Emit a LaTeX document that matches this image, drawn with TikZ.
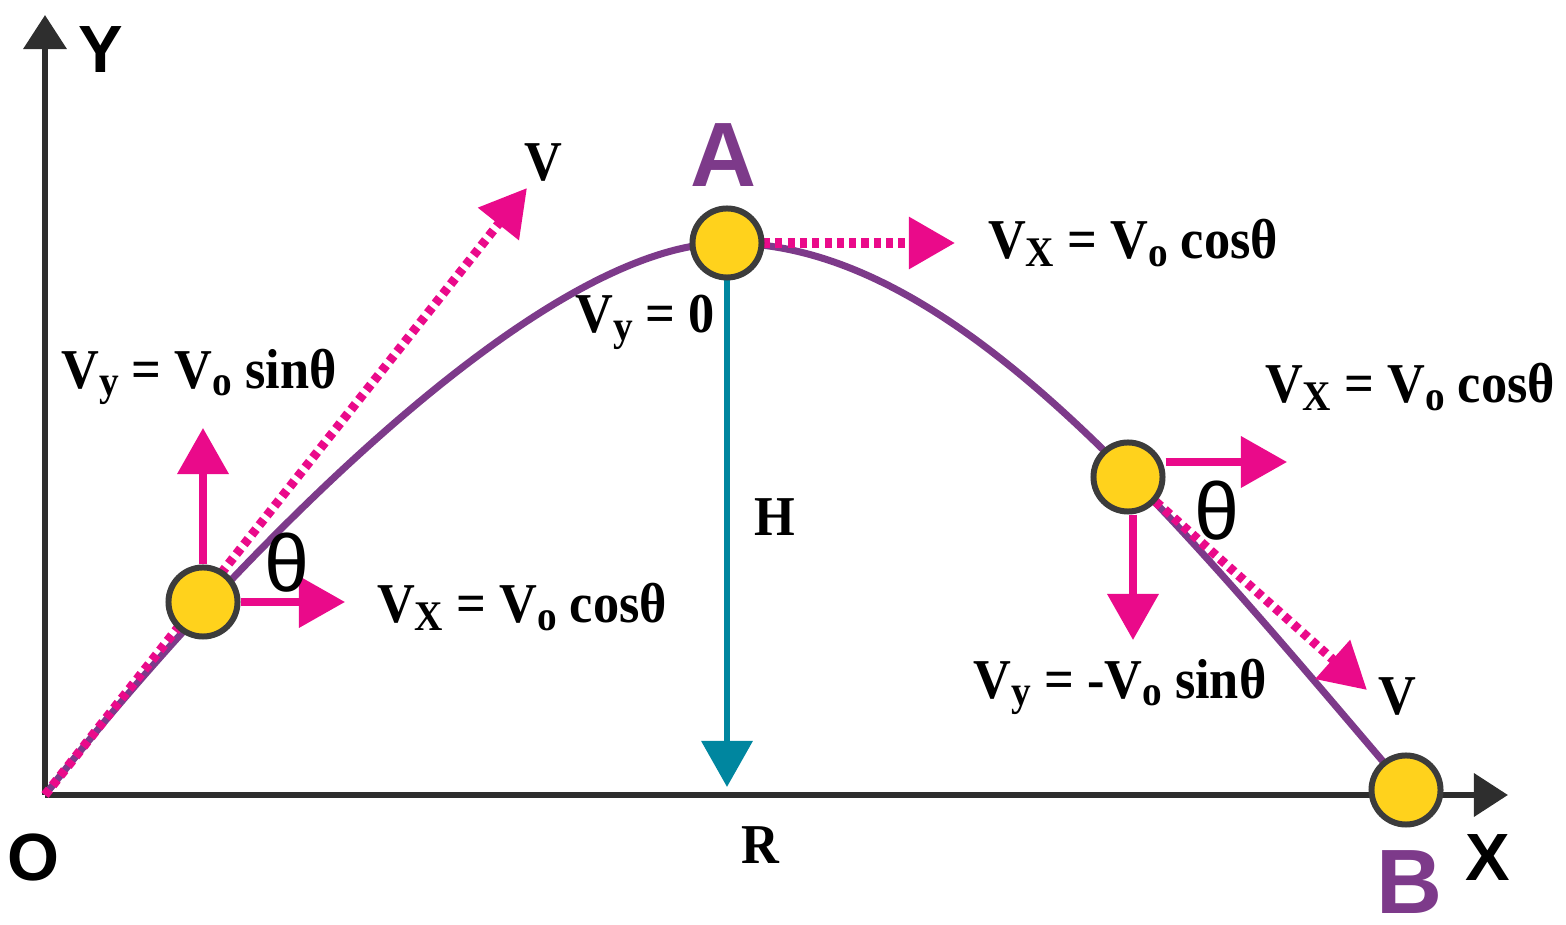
\documentclass[tikz,border=0pt]{standalone}
\usepackage{fontspec}
\setmainfont{Liberation Serif}[FakeStretch=0.93]
\newfontfamily\lsans{Liberation Sans}
\usetikzlibrary{arrows.meta}
\definecolor{pinkc}{HTML}{EA0A8A}
\definecolor{purpc}{HTML}{7D3A8A}
\definecolor{goldc}{HTML}{FFD21C}
\definecolor{edgec}{HTML}{3C3C3C}
\definecolor{tealc}{HTML}{00869F}
\definecolor{axisc}{HTML}{2E2E2E}
\newcommand\lowsub[1]{\raisebox{-0.3ex}{\fontsize{12}{12}\selectfont #1}}
\begin{document}
\begin{tikzpicture}[x=0.01cm,y=-0.01cm,
  ball/.style={circle,draw=edgec,fill=goldc,line width=1.7pt,minimum size=0.69cm,inner sep=0pt},
  axisline/.style={draw=axisc,line width=1.9pt,-{Triangle[length=0.34cm,width=0.42cm]}},
  vec/.style={draw=pinkc,line width=2pt,-{Triangle[length=0.46cm,width=0.5cm]}},
  dotvec/.style={draw=pinkc,line width=2.6pt,dash pattern=on 2pt off 1.5pt,-{Triangle[length=0.46cm,width=0.5cm]}},
  hvec/.style={draw=tealc,line width=1.9pt,-{Triangle[length=0.46cm,width=0.5cm]}},
  path/.style={draw=purpc,line width=2pt},
  eq/.style={font=\bfseries\fontsize{16}{18}\selectfont,inner sep=0pt},
  axlab/.style={font=\lsans\bfseries\fontsize{19}{20}\selectfont,inner sep=0pt},
  ptlab/.style={font=\lsans\bfseries\fontsize{26}{28}\selectfont,text=purpc,inner sep=0pt},
  thlab/.style={font=\lsans\fontsize{23}{24}\selectfont,inner sep=0pt}
]
\path[use as bounding box] (0,0) rectangle (1566,925);
% axes
\coordinate (O) at (45,795);
\coordinate (ytip) at (45,15);
\coordinate (xtip) at (1508,795);
\draw[axisline] (O) -- (ytip);
\draw[axisline] (O) -- (xtip);
% trajectory
\coordinate (apex) at (727,243);
\coordinate (bend) at (1392,772);
\draw[path] (O) .. controls (195,603) and (527,243) .. (apex)
  .. controls (950,243) and (1160,500) .. (bend);
% tips
\coordinate (tV1) at (527,188);
\coordinate (t1up) at (203,428);
\coordinate (t1r) at (345,602);
\coordinate (tAr) at (955,243);
\coordinate (tH) at (727,787);
\coordinate (t3r) at (1287,462);
\coordinate (t3d) at (1133,640);
\coordinate (tV3) at (1367,690);
% ball positions (balls drawn later)
\path (203,602) coordinate (c1) (727,243) coordinate (cA) (1128,477) coordinate (c3) (1406,790) coordinate (cB);
\draw[dotvec] (O) -- (tV1);
\draw[dotvec] (c3) -- (tV3);
\draw[dotvec] ([xshift=0.36cm]cA) -- (tAr);
\draw[hvec] (cA) -- (tH);
% balls
\node[ball] (b1) at (c1) {};
\node[ball] (bA) at (cA) {};
\node[ball] (b3) at (c3) {};
\node[ball] (bB) at (cB) {};
\draw[vec] (b1.north) -- (t1up);
\draw[vec] (b1.east) -- (t1r);
\draw[vec] (b3.east |- t3r) -- (t3r);
\draw[vec] (t3d |- b3.south) -- (t3d);
% labels
\node[axlab] (lY) at (101,50) {Y};
\node[axlab] (lX) at (1488,858) {X};
\node[axlab] (lO) at (33,858) {O};
\node[ptlab] (lA) at (724,155) {A};
\node[ptlab] (lB) at (1410,882) {B};
\node[thlab] (th1) at (287,563) {θ};
\node[thlab] (th3) at (1217,511) {θ};
\node[eq] (lV1) at (543,163) {V};
\node[eq] (lV3) at (1397,697) {V};
\node[eq] (lH) at (775,517) {H};
\node[eq] (lR) at (760,845) {R};
\node[eq] (e1) at (199,377) {V\lowsub{y} = V\lowsub{o} sinθ};
\node[eq] (e2) at (522,607) {V\lowsub{X} = V\lowsub{o} cosθ};
\node[eq] (e3) at (1133,243) {V\lowsub{X} = V\lowsub{o} cosθ};
\node[eq] (e4) at (645,322) {V\lowsub{y} = 0};
\node[eq] (e5) at (1410,387) {V\lowsub{X} = V\lowsub{o} cosθ};
\node[eq] (e6) at (1120,687) {V\lowsub{y} = -V\lowsub{o} sinθ};
\end{tikzpicture}
\end{document}
